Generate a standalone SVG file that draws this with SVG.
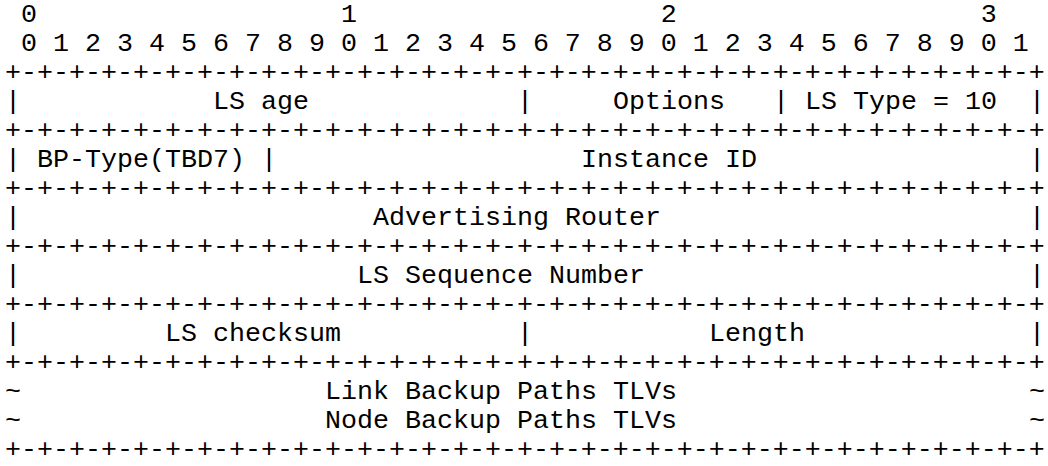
<svg xmlns="http://www.w3.org/2000/svg" width="1048" height="466" viewBox="0 0 1048 466">
  <style>
    .t { font-family: "Liberation Mono", "Courier New", monospace; font-size: 26.67px; fill: #000; white-space: pre; }
  </style>
  <rect width="1048" height="466" fill="#fff"/>
  <!-- bit ruler: 16px per character column, column 0 at x=5 -->
  <g id="ruler">
    <text class="t" x="5" y="22" xml:space="preserve"> 0                   1                   2                   3</text>
    <text class="t" x="5" y="51" xml:space="preserve"> 0 1 2 3 4 5 6 7 8 9 0 1 2 3 4 5 6 7 8 9 0 1 2 3 4 5 6 7 8 9 0 1</text>
  </g>
  <!-- separator rules -->
  <g id="rules">
    <text class="t" x="5" y="80">+-+-+-+-+-+-+-+-+-+-+-+-+-+-+-+-+-+-+-+-+-+-+-+-+-+-+-+-+-+-+-+-+</text>
    <text class="t" x="5" y="138">+-+-+-+-+-+-+-+-+-+-+-+-+-+-+-+-+-+-+-+-+-+-+-+-+-+-+-+-+-+-+-+-+</text>
    <text class="t" x="5" y="196">+-+-+-+-+-+-+-+-+-+-+-+-+-+-+-+-+-+-+-+-+-+-+-+-+-+-+-+-+-+-+-+-+</text>
    <text class="t" x="5" y="254">+-+-+-+-+-+-+-+-+-+-+-+-+-+-+-+-+-+-+-+-+-+-+-+-+-+-+-+-+-+-+-+-+</text>
    <text class="t" x="5" y="312">+-+-+-+-+-+-+-+-+-+-+-+-+-+-+-+-+-+-+-+-+-+-+-+-+-+-+-+-+-+-+-+-+</text>
    <text class="t" x="5" y="370">+-+-+-+-+-+-+-+-+-+-+-+-+-+-+-+-+-+-+-+-+-+-+-+-+-+-+-+-+-+-+-+-+</text>
    <text class="t" x="5" y="457">+-+-+-+-+-+-+-+-+-+-+-+-+-+-+-+-+-+-+-+-+-+-+-+-+-+-+-+-+-+-+-+-+</text>
  </g>
  <!-- row: LS age / Options / LS Type -->
  <g id="row-ls-age">
    <text class="t" x="5" y="109">|</text>
    <text class="t" x="213" y="109">LS age</text>
    <text class="t" x="517" y="109">|</text>
    <text class="t" x="613" y="109">Options</text>
    <text class="t" x="773" y="109">|</text>
    <text class="t" x="805" y="109">LS Type = 10</text>
    <text class="t" x="1029" y="109">|</text>
  </g>
  <!-- row: BP-Type / Instance ID -->
  <g id="row-instance">
    <text class="t" x="5" y="167">|</text>
    <text class="t" x="37" y="167">BP-Type(TBD7)</text>
    <text class="t" x="261" y="167">|</text>
    <text class="t" x="581" y="167">Instance ID</text>
    <text class="t" x="1029" y="167">|</text>
  </g>
  <!-- row: Advertising Router -->
  <g id="row-adv-router">
    <text class="t" x="5" y="225">|</text>
    <text class="t" x="373" y="225">Advertising Router</text>
    <text class="t" x="1029" y="225">|</text>
  </g>
  <!-- row: LS Sequence Number -->
  <g id="row-seq">
    <text class="t" x="5" y="283">|</text>
    <text class="t" x="357" y="283">LS Sequence Number</text>
    <text class="t" x="1029" y="283">|</text>
  </g>
  <!-- row: LS checksum / Length -->
  <g id="row-checksum">
    <text class="t" x="5" y="341">|</text>
    <text class="t" x="165" y="341">LS checksum</text>
    <text class="t" x="517" y="341">|</text>
    <text class="t" x="709" y="341">Length</text>
    <text class="t" x="1029" y="341">|</text>
  </g>
  <!-- variable-length TLV section -->
  <g id="row-tlvs">
    <text class="t" x="5" y="399">~</text>
    <text class="t" x="325" y="399">Link Backup Paths TLVs</text>
    <text class="t" x="1029" y="399">~</text>
    <text class="t" x="5" y="428">~</text>
    <text class="t" x="325" y="428">Node Backup Paths TLVs</text>
    <text class="t" x="1029" y="428">~</text>
  </g>
</svg>
